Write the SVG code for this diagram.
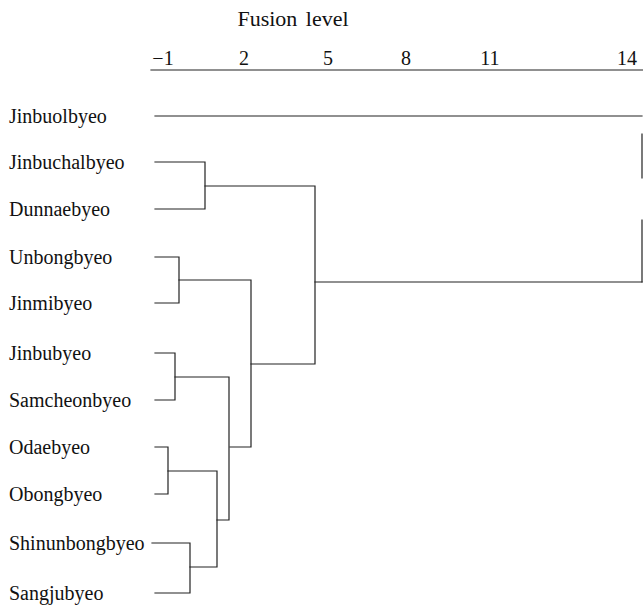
<svg xmlns="http://www.w3.org/2000/svg" width="643" height="606" viewBox="0 0 643 606">
  <style>
    text { font-family: "Liberation Serif", "Times New Roman", serif; fill: #111; }
    .title { font-size: 22px; word-spacing: 3px; }
    .tick { font-size: 20px; }
    .leaf { font-size: 20px; }
    .edge { fill: none; stroke: #222; stroke-width: 1.2; stroke-linecap: square; }
  </style>
  <rect width="643" height="606" fill="#fff"/>

  <!-- axis -->
  <g id="axis">
    <text class="title" x="293" y="26" text-anchor="middle">Fusion level</text>
    <text class="tick" x="163" y="65" text-anchor="middle">−1</text>
    <text class="tick" x="244" y="65" text-anchor="middle">2</text>
    <text class="tick" x="328" y="65" text-anchor="middle">5</text>
    <text class="tick" x="406" y="65" text-anchor="middle">8</text>
    <text class="tick" x="490" y="65" text-anchor="middle">11</text>
    <text class="tick" x="627" y="65" text-anchor="middle">14</text>
    <line class="edge" x1="151" y1="70" x2="643" y2="70"/>
  </g>

  <!-- leaves -->
  <g id="n-jinbuolbyeo"><text class="leaf" x="9" y="123">Jinbuolbyeo</text></g>
  <g id="n-jinbuchalbyeo"><text class="leaf" x="9" y="169">Jinbuchalbyeo</text></g>
  <g id="n-dunnaebyeo"><text class="leaf" x="9" y="216">Dunnaebyeo</text></g>
  <g id="n-unbongbyeo"><text class="leaf" x="9" y="264">Unbongbyeo</text></g>
  <g id="n-jinmibyeo"><text class="leaf" x="9" y="310">Jinmibyeo</text></g>
  <g id="n-jinbubyeo"><text class="leaf" x="9" y="360">Jinbubyeo</text></g>
  <g id="n-samcheonbyeo"><text class="leaf" x="9" y="407">Samcheonbyeo</text></g>
  <g id="n-odaebyeo"><text class="leaf" x="9" y="454">Odaebyeo</text></g>
  <g id="n-obongbyeo"><text class="leaf" x="9" y="501">Obongbyeo</text></g>
  <g id="n-shinunbongbyeo"><text class="leaf" x="9" y="550">Shinunbongbyeo</text></g>
  <g id="n-sangjubyeo"><text class="leaf" x="9" y="600">Sangjubyeo</text></g>

  <!-- dendrogram links -->
  <g id="connectors">
    <!-- Jinbuolbyeo joins everything at the root (vertical printed with breaks) -->
    <path class="edge" d="M155 116 H642"/>
    <path class="edge" d="M642 134 V178 M642 220 V282"/>
    <!-- Jinbuchalbyeo + Dunnaebyeo -->
    <path class="edge" d="M155 162 H205 V209 H155"/>
    <path class="edge" d="M205 186 H315 V364 H251"/>
    <!-- Unbongbyeo + Jinmibyeo -->
    <path class="edge" d="M155 257 H179 V303 H155"/>
    <path class="edge" d="M179 280 H251 V447 H230"/>
    <!-- Jinbubyeo + Samcheonbyeo -->
    <path class="edge" d="M155 353 H175 V400 H155"/>
    <path class="edge" d="M175 377 H229 V520 H217"/>
    <!-- Odaebyeo + Obongbyeo -->
    <path class="edge" d="M155 447 H168 V494 H155"/>
    <path class="edge" d="M168 471 H217 V567 H190"/>
    <!-- Shinunbongbyeo + Sangjubyeo -->
    <path class="edge" d="M152 543 H190 V593 H155"/>
    <!-- root merge -->
    <path class="edge" d="M315 282 H642"/>
  </g>
</svg>
